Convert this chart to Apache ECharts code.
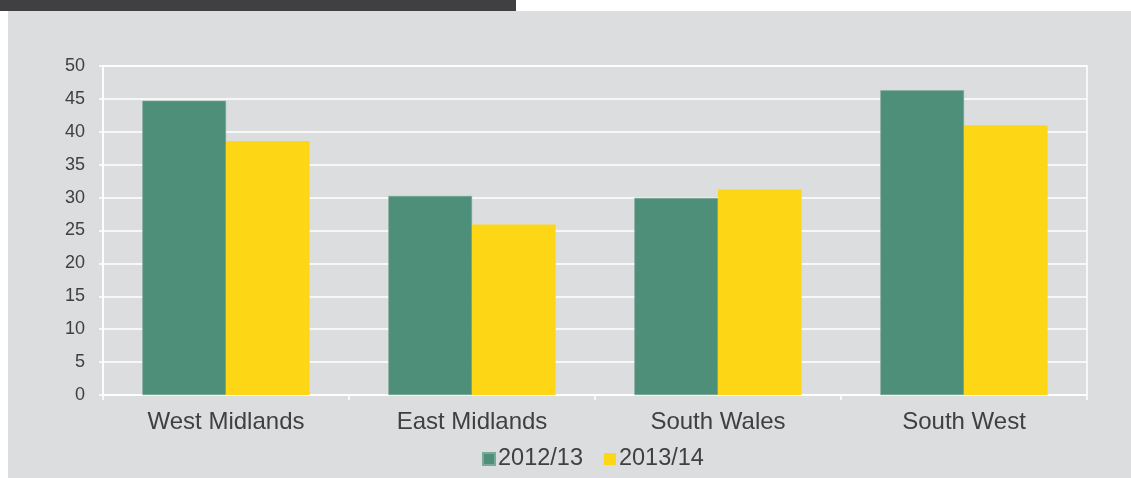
<!DOCTYPE html>
<html>
<head>
<meta charset="utf-8">
<script src="https://cdn.jsdelivr.net/npm/echarts@6/dist/echarts.min.js"></script>
<style>
	html, body { margin: 0; padding: 0; background: #ffffff; }
	#chart { width: 1131px; height: 478px; }
</style>
</head>
<body>
<div id="chart"></div>
<script>
const regions = ['West Midlands', 'East Midlands', 'South Wales', 'South West'];
const seriesNames = ['2012/13', '2013/14'];
const values2012 = [44.7, 30.25, 29.95, 46.3];
const values2013 = [38.6, 25.9, 31.25, 41.0];

const textColor = '#404040';
const chart = echarts.init(document.getElementById('chart'));

const option = {
	backgroundColor: '#ffffff',
	animation: false,
	graphic: [
		{ type: 'rect', z: -10, shape: { x: 8, y: 11, width: 1123, height: 467 }, style: { fill: '#dcdddf' } },
		{ type: 'rect', z: -10, shape: { x: 0, y: 0, width: 516, height: 11 }, style: { fill: '#404042' } }
	],
	grid: {
		left: 103,
		right: 44,
		top: 66,
		bottom: 83,
		show: true,
		borderColor: '#ffffff',
		borderWidth: 1.5,
		backgroundColor: 'transparent'
	},
	legend: {
		data: seriesNames,
		top: 442,
		left: 477,
		itemWidth: 12,
		itemHeight: 12,
		itemGap: 21,
		icon: 'rect',
		textStyle: { fontFamily: 'Liberation Sans', fontSize: 23.5, color: textColor, padding: [3, 0, 0, -2] }
	},
	xAxis: {
		type: 'category',
		data: regions,
		axisLine: { lineStyle: { color: '#ffffff', width: 1.5 } },
		axisTick: { show: true, length: 5, lineStyle: { color: '#ffffff', width: 1.5 } },
		axisLabel: { fontFamily: 'Liberation Sans', fontSize: 24, color: textColor, margin: 15 },
		splitLine: { show: false }
	},
	yAxis: {
		type: 'value',
		min: 0,
		max: 50,
		interval: 5,
		axisLine: { show: true, lineStyle: { color: '#ffffff', width: 1.5 } },
		axisTick: { show: true, length: 4, lineStyle: { color: '#ffffff', width: 1.5 } },
		axisLabel: { fontFamily: 'Liberation Sans', fontSize: 18, color: textColor, margin: 18 },
		splitLine: { show: true, lineStyle: { color: '#ffffff', width: 1.5 } }
	},
	series: [
		{
			name: seriesNames[0],
			type: 'bar',
			data: values2012,
			barGap: '0%',
			barCategoryGap: '32%',
			itemStyle: { color: '#4e8f79', borderColor: '#7aa996', borderWidth: 0.5 }
		},
		{
			name: seriesNames[1],
			type: 'bar',
			data: values2013,
			itemStyle: { color: '#fdd716' }
		}
	]
};
chart.setOption(option);
</script>
</body>
</html>
